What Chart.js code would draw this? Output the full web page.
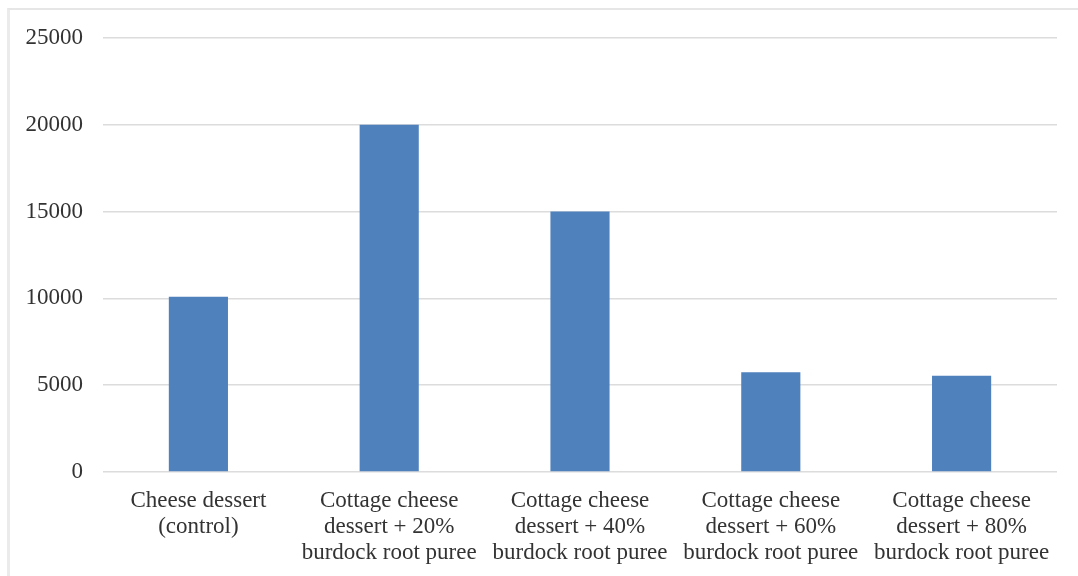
<!DOCTYPE html>
<html>
<head>
<meta charset="utf-8">
<script src="https://cdn.jsdelivr.net/npm/chart.js@4"></script>
<style>
  html, body { margin: 0; padding: 0; background: #ffffff; }
  #wrap { position: relative; width: 1078px; height: 576px; overflow: hidden; }
  #frame {
    position: absolute; left: 7px; top: 8px; width: 1100px; height: 600px;
    border-left: 3px solid #ebebeb; border-top: 2px solid #e6e6e6;
  }
  canvas { position: absolute; left: 0; top: 0; }
</style>
</head>
<body>
<div id="wrap">
  <div id="frame"></div>
  <canvas id="chart" width="1078" height="576"></canvas>
</div>
<script>
// Sample groups (each label split over lines)
const categories = [
  ['Cheese dessert', '(control)'],
  ['Cottage cheese', 'dessert + 20%', 'burdock root puree'],
  ['Cottage cheese', 'dessert + 40%', 'burdock root puree'],
  ['Cottage cheese', 'dessert + 60%', 'burdock root puree'],
  ['Cottage cheese', 'dessert + 80%', 'burdock root puree']
];

// Measured value for each sample
const values = [10100, 20000, 15000, 5750, 5550];

// Value axis ticks
const yTicks = [0, 5000, 10000, 15000, 20000, 25000];

const textColor = '#333333';
const gridColor = '#dcdcdc';
const serif = "'Liberation Serif', 'Times New Roman', serif";

new Chart(document.getElementById('chart'), {
  type: 'bar',
  data: {
    labels: categories,
    datasets: [{
      data: values,
      backgroundColor: '#4f81bd',
      borderWidth: 0,
      barPercentage: 0.31,
      categoryPercentage: 1.0
    }]
  },
  options: {
    responsive: false,
    animation: false,
    layout: { padding: { top: 38, right: 21, left: 0, bottom: 0 } },
    plugins: { legend: { display: false }, tooltip: { enabled: false } },
    scales: {
      x: {
        grid: { display: false, drawTicks: false },
        border: { display: false },
        ticks: {
          color: textColor,
          font: { family: serif, size: 23, lineHeight: 26 / 23 },
          padding: 16,
          maxRotation: 0,
          autoSkip: false
        },
        afterFit: (scale) => { scale.height = 104; }
      },
      y: {
        min: 0,
        max: 25000,
        afterBuildTicks: (scale) => { scale.ticks = yTicks.map(v => ({ value: v })); },
        grid: { color: gridColor, lineWidth: 1.5, drawTicks: false },
        border: { display: false },
        ticks: {
          color: textColor,
          font: { family: serif, size: 23 },
          padding: 20,
          callback: (v) => String(v)
        },
        afterFit: (scale) => { scale.width = 103; }
      }
    }
  }
});
</script>
</body>
</html>
